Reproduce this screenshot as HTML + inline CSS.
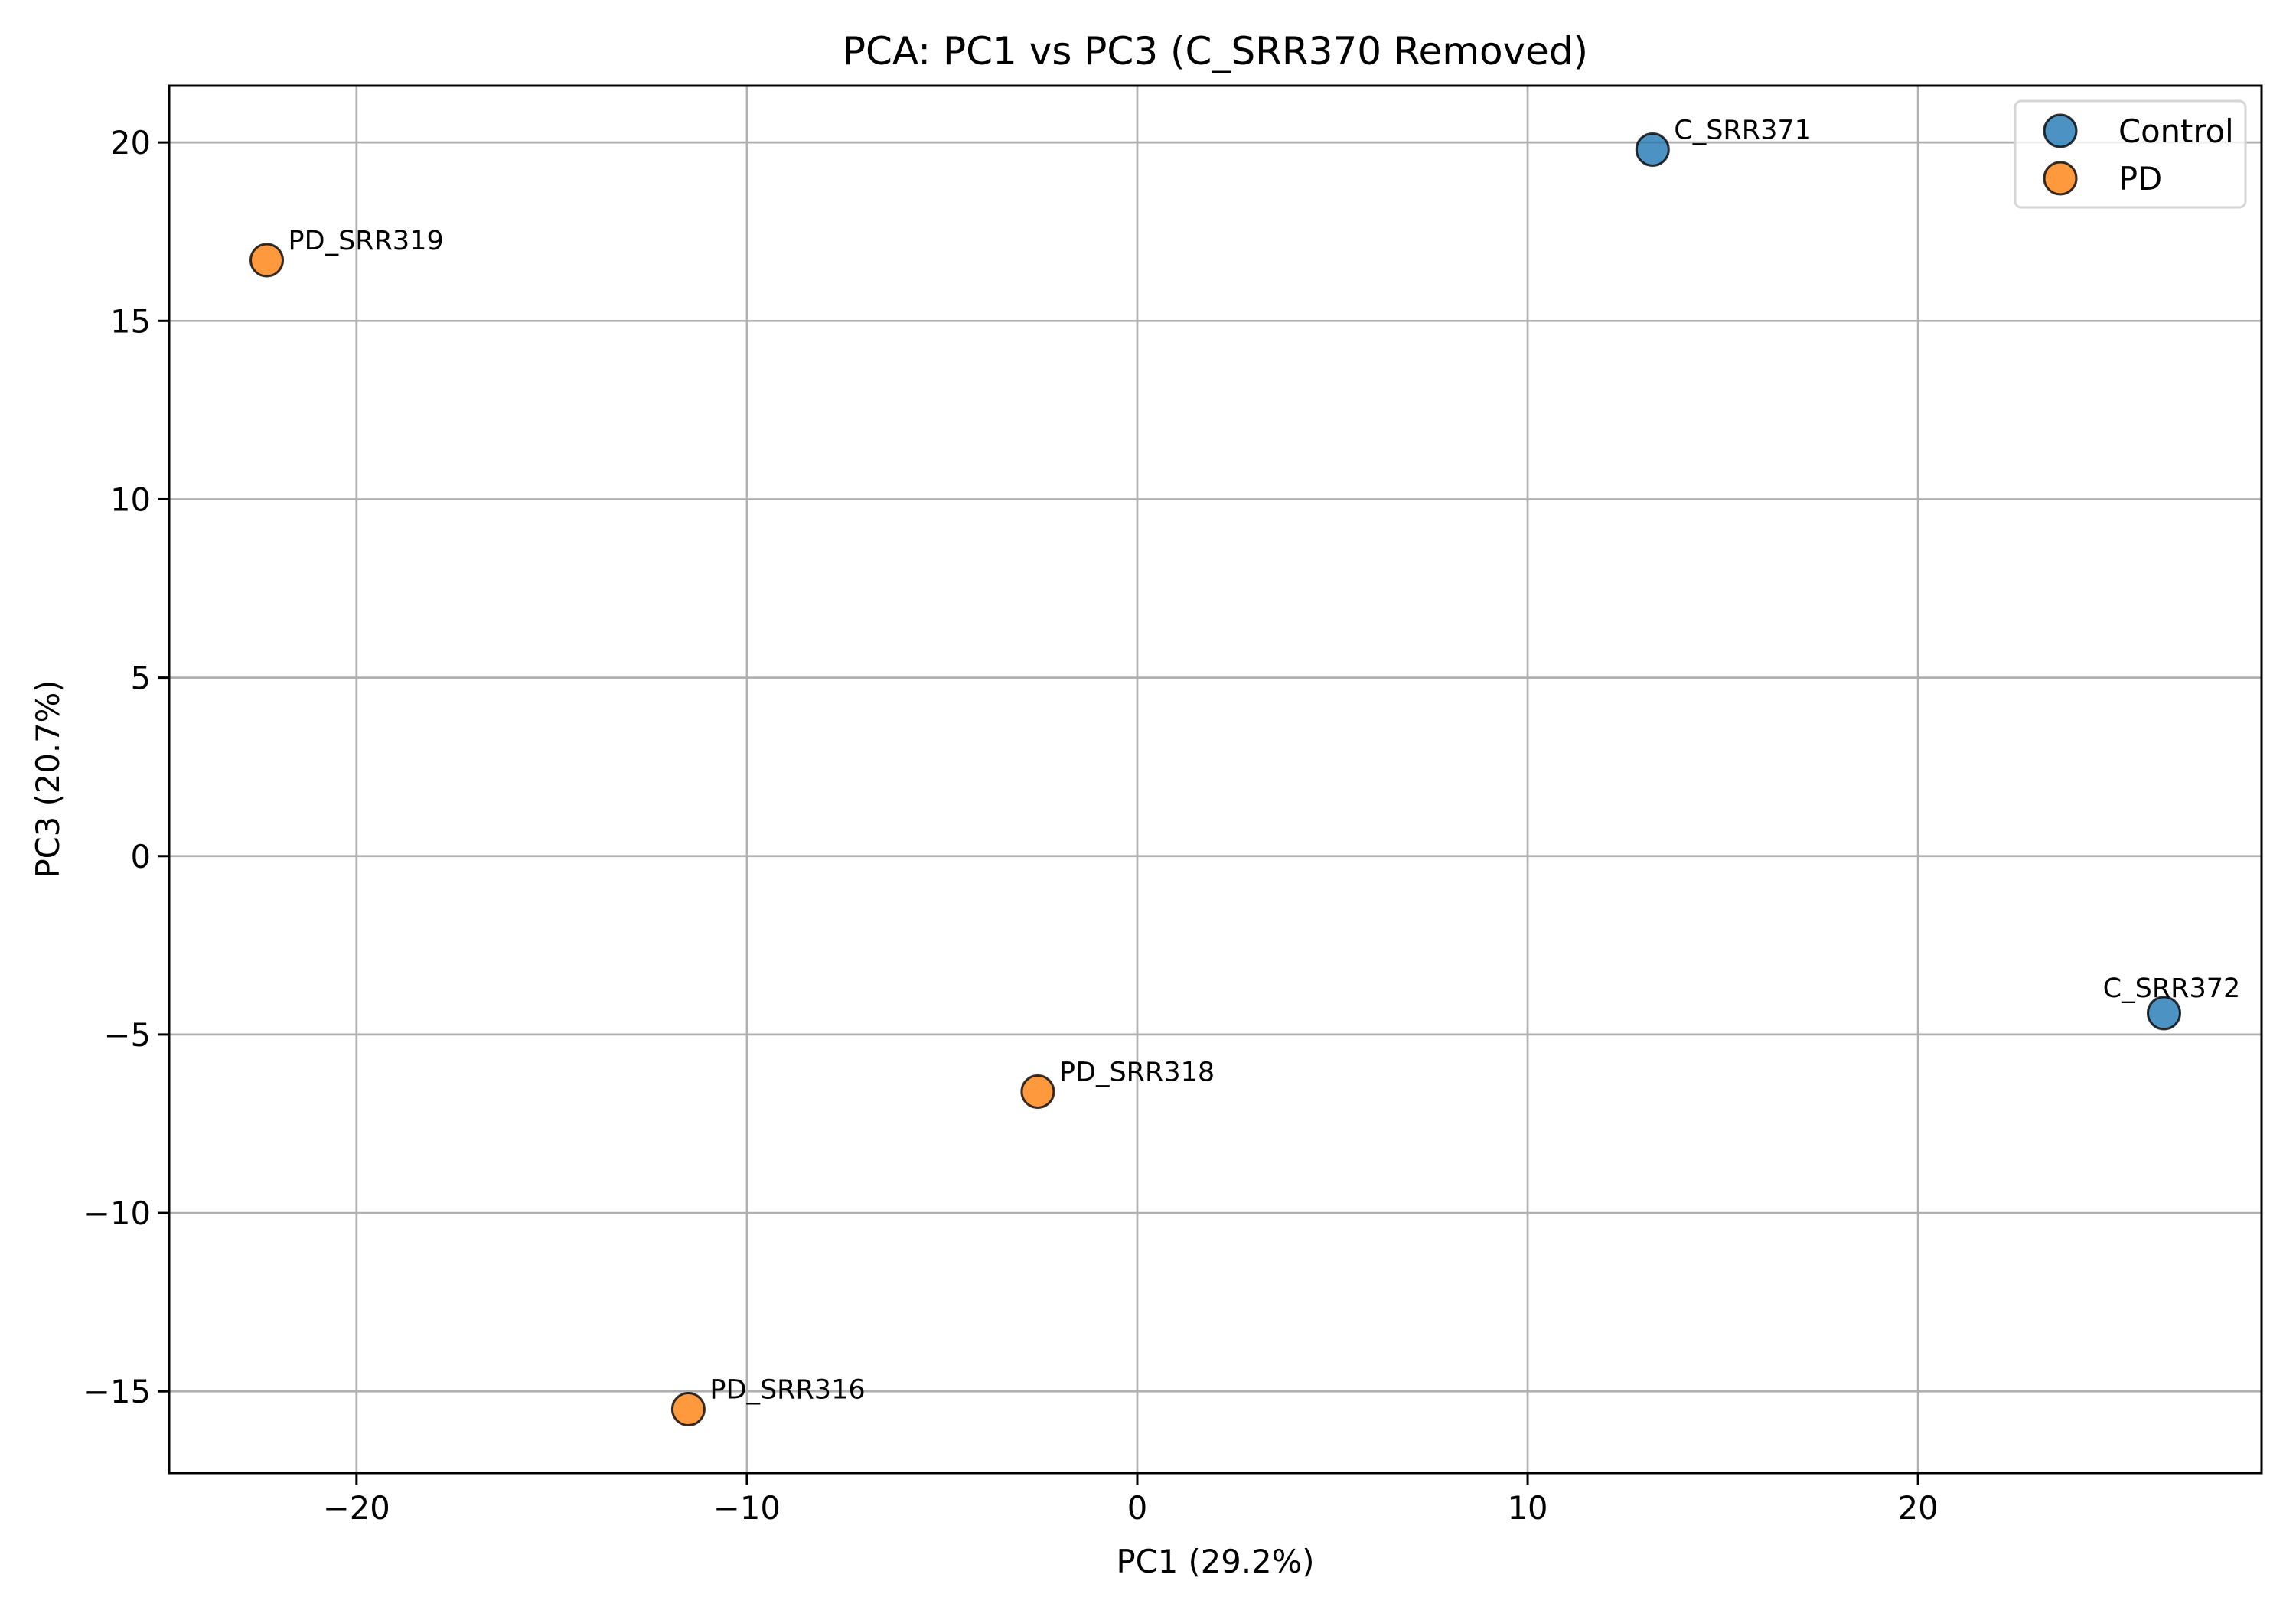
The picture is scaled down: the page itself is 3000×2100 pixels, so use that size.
<!DOCTYPE html>
<html><head><meta charset="utf-8"><style>
html,body{margin:0;padding:0;background:#fff;}
svg{display:block;font-family:"DejaVu Sans","Liberation Sans",sans-serif;}
</style></head><body>
<svg id="chart" width="3000" height="2100" viewBox="0 0 3000 2100">
<rect width="3000" height="2100" fill="#fff"/>
<g id="grid"></g>
<g id="ticks"></g>
<g id="points"></g>
<rect x="221" y="112" width="2734" height="1813" fill="none" stroke="#000" stroke-width="3"/>
<text x="1588" y="84" font-size="50" text-anchor="middle">PCA: PC1 vs PC3 (C_SRR370 Removed)</text>
<text x="1588" y="2055" font-size="41.7" text-anchor="middle">PC1 (29.2%)</text>
<text x="0" y="0" font-size="41.7" text-anchor="middle" transform="translate(77,1018) rotate(-90)">PC3 (20.7%)</text>
<g>
<rect x="2633" y="132" width="301" height="139" rx="8" fill="#fff" fill-opacity="0.8" stroke="#d6d6d6" stroke-width="3"/>
<circle cx="2692" cy="171" r="21" fill="#1f77b4" fill-opacity="0.8" stroke="#000" stroke-opacity="0.8" stroke-width="3"/>
<text x="2768" y="186" font-size="41.7">Control</text>
<circle cx="2692" cy="233" r="21" fill="#ff7f0e" fill-opacity="0.8" stroke="#000" stroke-opacity="0.8" stroke-width="3"/>
<text x="2768" y="248" font-size="41.7">PD</text>
</g>
</svg>
<script>
const sampleNames = ["C_SRR371","C_SRR372","PD_SRR319","PD_SRR318","PD_SRR316"];
const sampleGroups = ["Control","Control","PD","PD","PD"];
const pc1Values = [13.2, 26.3, -22.3, -2.55, -11.5];
const pc3Values = [19.8, -4.4, 16.7, -6.6, -15.5];
const xTicks = [-20, -10, 0, 10, 20];
const yTicks = [-15, -10, -5, 0, 5, 10, 15, 20];
const xTickLabels = ["\u221220","\u221210","0","10","20"];
const yTickLabels = ["\u221215","\u221210","\u22125","0","5","10","15","20"];

const NS = "http://www.w3.org/2000/svg";
const L=221,R=2955,T=112,B=1925;
const xMin=-24.8,xMax=28.8,yMin=-17.29,yMax=21.59;
function xs(v){return L+(v-xMin)/(xMax-xMin)*(R-L);}
function ys(v){return B-(v-yMin)/(yMax-yMin)*(B-T);}
function mk(tag,attrs,parent){const e=document.createElementNS(NS,tag);for(const k in attrs)e.setAttribute(k,attrs[k]);parent.appendChild(e);return e;}
const grid=document.getElementById('grid'),ticks=document.getElementById('ticks'),pts=document.getElementById('points');
xTicks.forEach((v,i)=>{
  const x=xs(v);
  const g=mk('line',{x1:x,x2:x,y1:T,y2:B,stroke:'#b0b0b0','stroke-width':2.7},grid);
  
  
  const t=mk('line',{x1:x,x2:x,y1:B,y2:B+15,stroke:'#000','stroke-width':3},ticks);
  
  
  const tx=mk('text',{x:x,y:B+60,'font-size':41.7,'text-anchor':'middle'},ticks);
  tx.textContent=xTickLabels[i];
  
  
});
yTicks.forEach((v,i)=>{
  const y=ys(v);
  const g=mk('line',{x1:L,x2:R,y1:y,y2:y,stroke:'#b0b0b0','stroke-width':2.7},grid);
  
  
  const t=mk('line',{x1:L-15,x2:L,y1:y,y2:y,stroke:'#000','stroke-width':3},ticks);
  
  
  const tx=mk('text',{x:L-24,y:y+15,'font-size':41.7,'text-anchor':'end'},ticks);
  tx.textContent=yTickLabels[i];
  
  
});
const colors={Control:'#1f77b4',PD:'#ff7f0e'};
sampleNames.forEach((n,i)=>{
  const x=xs(pc1Values[i]),y=ys(pc3Values[i]);
  const c=mk('circle',{cx:x,cy:y,r:21,fill:colors[sampleGroups[i]],'fill-opacity':0.8,stroke:'#000','stroke-opacity':0.8,'stroke-width':3},pts);
  
  
  let attrs={x:x+28,y:y-14,'font-size':35};
  if(n==='C_SRR372'){attrs={x:x+10,y:y-21,'font-size':35,'text-anchor':'middle'};}
  const t=mk('text',attrs,pts);
  t.textContent=n;
  
  
});
</script>
</body></html>
